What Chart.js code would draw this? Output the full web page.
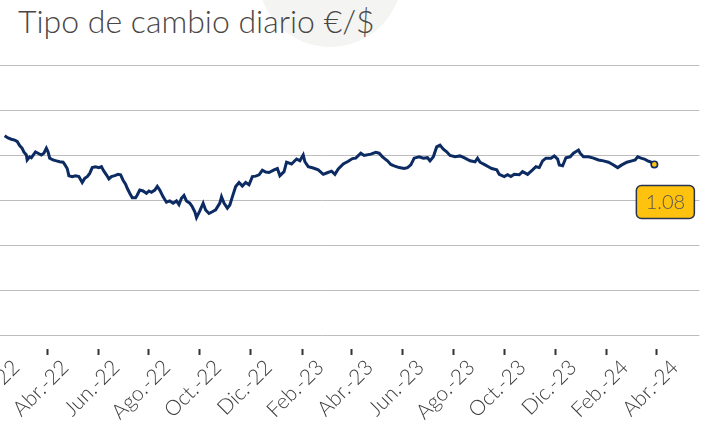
<!DOCTYPE html>
<html>
<head>
<meta charset="utf-8">
<script src="https://cdn.jsdelivr.net/npm/chart.js@4.4.1/dist/chart.umd.min.js"></script>
<style>
  html, body { margin: 0; padding: 0; background: #fff; overflow: hidden; }
  body { width: 705px; height: 440px; position: relative; }
  #blob { position: absolute; left: 258px; top: -97px; width: 144px; height: 144px; border-radius: 50%; background: #f4f4f2; }
  #title { position: absolute; left: 18px; top: 1px; font-family: Lato, "Open Sans", sans-serif; font-weight: 300; font-size: 32px; color: #4a4646; white-space: nowrap; }
  #wrap { position: absolute; left: -60px; top: 0; width: 765px; height: 440px; }
  #c { display: block; }
</style>
</head>
<body>
<div id="blob"></div>
<div id="title">Tipo de cambio diario €/$</div>
<div id="wrap"><canvas id="c" width="765" height="440"></canvas></div>
<script>
// Days counted from 2022-01-01
const days = [39,43,47,51,54,57,60,62,65,66,69,71,76,79,83,86,89,91,93,97,101,105,109,111,114,116,120,124,128,132,135,138,141,144,148,152,155,158,161,164,167,171,175,178,181,184,186,189,192,196,198,201,205,209,212,215,219,222,225,229,233,237,241,245,248,251,254,257,261,264,267,269,273,277,280,284,288,292,297,299,302,306,309,312,316,320,324,328,332,336,340,344,348,352,356,362,366,369,374,377,383,389,393,397,399,403,409,415,421,425,431,435,439,445,451,456,460,466,470,478,484,488,492,498,502,506,512,518,522,526,530,536,541,546,549,553,557,561,565,569,573,579,585,591,597,603,606,609,615,619,623,629,632,638,642,646,650,656,660,666,672,676,680,684,688,694,698,702,704,708,712,717,721,727,729,733,739,745,751,757,763,768,774,779,785,791,795,798,802,806,810,814,818];
const rates = [1.143,1.138,1.135,1.133,1.130,1.121,1.115,1.107,1.100,1.089,1.096,1.094,1.107,1.104,1.100,1.104,1.115,1.107,1.093,1.089,1.087,1.085,1.084,1.079,1.070,1.054,1.052,1.054,1.052,1.039,1.048,1.052,1.059,1.072,1.074,1.072,1.074,1.064,1.056,1.047,1.052,1.054,1.057,1.056,1.044,1.035,1.026,1.015,1.005,1.005,1.011,1.022,1.020,1.015,1.020,1.017,1.022,1.030,1.022,1.007,0.995,0.998,0.993,0.998,0.990,1.004,1.010,0.998,0.993,0.985,0.974,0.961,0.976,0.993,0.978,0.970,0.974,0.978,0.993,1.007,0.993,0.982,0.989,1.007,1.030,1.039,1.031,1.039,1.034,1.052,1.053,1.056,1.066,1.062,1.061,1.067,1.070,1.054,1.063,1.084,1.080,1.091,1.087,1.100,1.085,1.074,1.071,1.067,1.057,1.060,1.064,1.057,1.069,1.080,1.086,1.092,1.093,1.104,1.099,1.102,1.106,1.104,1.096,1.087,1.079,1.076,1.072,1.070,1.072,1.078,1.093,1.096,1.093,1.094,1.087,1.096,1.118,1.122,1.113,1.107,1.099,1.096,1.098,1.093,1.087,1.085,1.093,1.084,1.078,1.074,1.070,1.067,1.057,1.052,1.056,1.052,1.057,1.056,1.063,1.057,1.067,1.074,1.072,1.087,1.093,1.093,1.098,1.091,1.078,1.076,1.094,1.096,1.104,1.111,1.104,1.096,1.096,1.093,1.089,1.087,1.084,1.079,1.072,1.078,1.084,1.087,1.089,1.096,1.093,1.091,1.087,1.084,1.079];
const tickDates = ['2022-02-01','2022-04-01','2022-06-01','2022-08-01','2022-10-01','2022-12-01','2023-02-01','2023-04-01','2023-06-01','2023-08-01','2023-10-01','2023-12-01','2024-02-01','2024-04-01'];
const tickLabels = ['Feb.-22','Abr.-22','Jun.-22','Ago.-22','Oct.-22','Dic.-22','Feb.-23','Abr.-23','Jun.-23','Ago.-23','Oct.-23','Dic.-23','Feb.-24','Abr.-24'];
const yTicks = [0.7,0.8,0.9,1.0,1.1,1.2,1.3];

const base = Date.UTC(2022,0,1);
const tickDays = tickDates.map(d => Math.round((Date.parse(d + 'T00:00:00Z') - base) / 86400000));
const points = days.map((d,i) => ({x: d, y: rates[i]}));
const lastIdx = points.length - 1;

const NAVY = '#0c2b63';
const GOLD = '#ffc20e';

const badge = {
  id: 'badge',
  afterDatasetsDraw(chart) {
    const meta = chart.getDatasetMeta(0);
    const p = meta.data[lastIdx];
    const ctx = chart.ctx;
    const w = 58, h = 33, x = p.x - 18, y = p.y + 21, r = 5;
    ctx.save();
    ctx.beginPath();
    ctx.roundRect(x, y, w, h, r);
    ctx.fillStyle = GOLD;
    ctx.fill();
    ctx.lineWidth = 1.5;
    ctx.strokeStyle = '#2a3350';
    ctx.stroke();
    ctx.fillStyle = '#555';
    ctx.font = '300 20px Lato, "Open Sans", sans-serif';
    ctx.textAlign = 'center';
    ctx.textBaseline = 'middle';
    ctx.fillText(rates[lastIdx].toFixed(2), x + w/2, y + h/2 + 1);
    ctx.restore();
  }
};

new Chart(document.getElementById('c'), {
  type: 'line',
  data: {
    datasets: [{
      data: points,
      borderColor: NAVY,
      borderWidth: 3,
      tension: 0,
      pointRadius: c => c.dataIndex === lastIdx ? 3.2 : 0,
      pointBackgroundColor: GOLD,
      pointBorderColor: NAVY,
      pointBorderWidth: 1.6,
      clip: false
    }]
  },
  options: {
    responsive: false,
    animation: false,
    devicePixelRatio: 1,
    layout: { padding: { top: 65, right: 3, left: 0, bottom: 0 } },
    plugins: { legend: { display: false }, tooltip: { enabled: false } },
    scales: {
      x: {
        type: 'linear',
        min: -31.8,
        max: 872,
        border: { display: false },
        grid: {
          drawOnChartArea: false,
          tickLength: 20,
          tickWidth: 2,
          tickColor: '#333',
          tickBorderDash: [0, 14, 6, 100]
        },
        afterBuildTicks: s => { s.ticks = tickDays.map(v => ({ value: v })); },
        afterFit: s => { s.height = 105; },
        ticks: {
          autoSkip: false,
          minRotation: 45,
          maxRotation: 45,
          labelOffset: 18,
          padding: 0,
          color: '#3d3d3d',
          font: { family: 'Lato, "Open Sans", sans-serif', size: 21, weight: 300 },
          callback: v => { const i = tickDays.indexOf(v); return i >= 0 ? tickLabels[i] : ''; }
        }
      },
      y: {
        min: 0.7,
        max: 1.3,
        border: { display: false },
        afterBuildTicks: s => { s.ticks = yTicks.map(v => ({ value: v })); },
        grid: { color: '#bdbdbd', lineWidth: 1, drawTicks: false },
        ticks: { display: false }
      }
    }
  },
  plugins: [badge]
});
</script>
</body>
</html>
